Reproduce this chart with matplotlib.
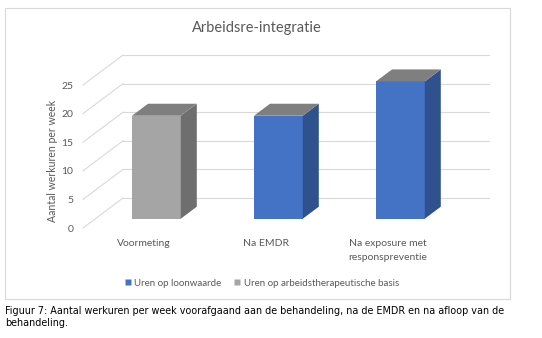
import matplotlib
matplotlib.use("Agg")
import matplotlib.pyplot as plt
from matplotlib.patches import Polygon, Rectangle
from matplotlib.lines import Line2D

# ---- data -------------------------------------------------------------
categories = ["Voormeting", "Na EMDR", "Na exposure met\nresponspreventie"]
uren_loonwaarde = [0, 18, 24]
uren_arbeidstherapeutisch = [18, 0, 0]
series_names = ["Uren op loonwaarde", "Uren op arbeidstherapeutische basis"]
y_ticks = [0, 5, 10, 15, 20, 25]
title = "Arbeidsre-integratie"
y_label = "Aantal werkuren per week"
caption = ("Figuur 7: Aantal werkuren per week voorafgaand aan de behandeling, "
           "na de EMDR en na afloop van de\nbehandeling.")

# ---- styling ----------------------------------------------------------
FONT = ["Lato", "DejaVu Sans"]
TEXT = "#595959"
GRID = "#d9d9d9"
# (front, side, top) shades for every series
shades = [("#4472c4", "#2f528f", "#7f7f7f"),
          ("#a5a5a5", "#6e6e6e", "#7f7f7f")]

W, H = 542, 338
fig = plt.figure(figsize=(W / 100, H / 100), dpi=100)

# oblique depth of the 3-D box, expressed in data units
DX, DY = 0.328, 5.245
f1, f2 = 0.31, 0.71      # depth range occupied by the bars
bw = 0.40                # bar width (category units)

ax = fig.add_axes([83 / W, (H - 228) / H, 406 / W, 173 / H])
ax.set_xlim(-0.5, len(categories) - 0.5 + DX)
ax.set_ylim(0, y_ticks[-1] + DY)
for s in ax.spines.values():
    s.set_visible(False)

# back wall gridlines and the diagonal side-wall lines
for v in y_ticks:
    ax.plot([-0.5 + DX, len(categories) - 0.5 + DX], [v + DY, v + DY],
            color=GRID, lw=0.8, zorder=1, clip_on=False)
    ax.plot([-0.5, -0.5 + DX], [v, v + DY],
            color=GRID, lw=0.8, zorder=1, clip_on=False)

# stacked 3-D columns
series = [uren_loonwaarde, uren_arbeidstherapeutisch]
d = f2 - f1
for i in range(len(categories)):
    xl = i - bw / 2 + f1 * DX
    xr = xl + bw
    base = f1 * DY
    for vals, (front, side, top) in zip(series, shades):
        v = vals[i]
        if v > 0:
            ax.add_patch(Rectangle((xl, base), bw, v, facecolor=front,
                                   edgecolor="none", zorder=3))
            ax.add_patch(Polygon([(xr, base), (xr + d * DX, base + d * DY),
                                  (xr + d * DX, base + v + d * DY), (xr, base + v)],
                                 closed=True, facecolor=side, edgecolor="none", zorder=3))
        base += v
    top_col = shades[-1][2]
    ax.add_patch(Polygon([(xl, base), (xr, base), (xr + d * DX, base + d * DY),
                          (xl + d * DX, base + d * DY)],
                         closed=True, facecolor=top_col, edgecolor="none", zorder=3))

# axes text
ax.set_yticks(y_ticks)
ax.set_yticklabels([str(t) for t in y_ticks], family=FONT, fontsize=7.5, color=TEXT)
ax.set_xticks(range(len(categories)))
ax.set_xticklabels(categories, family=FONT, fontsize=7.5, color=TEXT, linespacing=1.7)
ax.tick_params(axis="y", length=0, pad=7)
ax.tick_params(axis="x", length=0, pad=8)
ax.set_ylabel(y_label, family=FONT, fontsize=7.6, color=TEXT, va="center")
ax.yaxis.set_label_coords((52 - 83) / 406, (228 - 161) / 173)

fig.text(257 / W, 1 - 28 / H, title, ha="center", va="center",
         family=FONT, fontsize=10.5, color=TEXT)

handles = [Line2D([], [], marker="s", linestyle="none", markersize=4,
                  markerfacecolor=sh[0], markeredgecolor="none") for sh in shades]
fig.legend(handles, series_names, loc="center", bbox_to_anchor=(262 / W, 1 - 283 / H),
           ncol=2, frameon=False, handlelength=0.6, handletextpad=0.35,
           columnspacing=1.3, prop={"family": FONT, "size": 7.0},
           labelcolor=TEXT)

# chart frame
fig.add_artist(Rectangle((5 / W, 1 - 299 / H), 505 / W, 291 / H,
                         transform=fig.transFigure, fill=False,
                         edgecolor=GRID, lw=0.8))

fig.text(5 / W, 1 - 306 / H, caption, ha="left", va="top",
         family="DejaVu Sans", fontsize=6.9, color="black", linespacing=1.3)

fig.savefig("out.png", dpi=100, facecolor="white")
